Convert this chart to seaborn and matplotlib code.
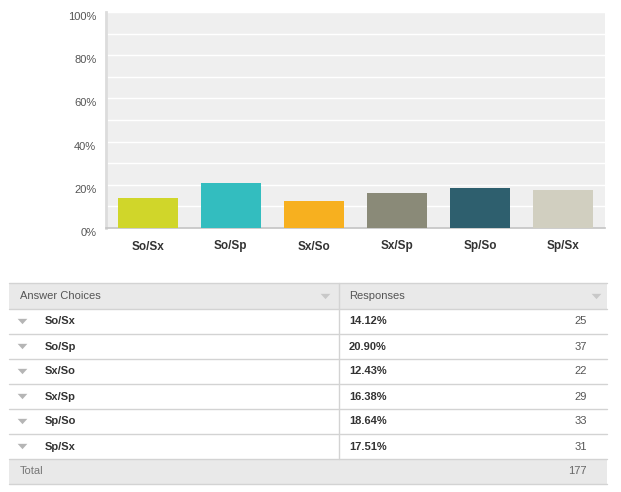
import matplotlib
matplotlib.use("Agg")
import matplotlib.pyplot as plt
import matplotlib.transforms as mtransforms
from matplotlib.patches import Rectangle
import seaborn as sns
import pandas as pd

categories = ["So/Sx", "So/Sp", "Sx/So", "Sx/Sp", "Sp/So", "Sp/Sx"]
percents = [14.12, 20.90, 12.43, 16.38, 18.64, 17.51]
counts = [25, 37, 22, 29, 33, 31]
total = 177
colors = ["#d0d62a", "#33bdbf", "#f7b01f", "#8a8a78", "#2e5f6e", "#d1cfc0"]
ytick_vals = [0, 20, 40, 60, 80, 100]
ytick_labels = ["0%", "20%", "40%", "60%", "80%", "100%"]

sns.set_theme(style="white")
plt.rcParams["font.family"] = ["Liberation Sans", "DejaVu Sans"]

W, H = 621, 492
fig = plt.figure(figsize=(W / 100, H / 100), dpi=100)

# chart axes
x0, x1, ytop, ybot = 106, 605, 12, 228
ax = fig.add_axes([x0 / W, 1 - ybot / H, (x1 - x0) / W, (ybot - ytop) / H])
df = pd.DataFrame({"cat": categories, "pct": percents})
sns.barplot(data=df, x="cat", y="pct", hue="cat", palette=colors, width=0.72,
            legend=False, ax=ax, saturation=1, zorder=3, linewidth=0, edgecolor="none")
ax.set_facecolor("#efefef")
ax.set_ylim(0, 100)
ax.set_xlim(-0.5, len(categories) - 0.5)
ax.set_yticks(ytick_vals)
ax.set_yticklabels(ytick_labels)
ax.set_yticks(list(range(10, 100, 20)), minor=True)
ax.grid(axis="y", which="both", color="white", linewidth=1.0, zorder=1)
ax.set_axisbelow(True)
ax.set_xlabel("")
ax.set_ylabel("")
for s in ["top", "right"]:
    ax.spines[s].set_visible(False)
ax.spines["left"].set_color("#dcdcdc")
ax.spines["left"].set_linewidth(2)
ax.spines["bottom"].set_color("#c4c4c4")
ax.spines["bottom"].set_linewidth(1.2)
ax.tick_params(axis="y", which="both", length=0, pad=7, labelsize=8, labelcolor="#555555")
ax.tick_params(axis="x", length=0, pad=9, labelsize=8.5, labelcolor="#333333")
for lab in ax.get_xticklabels():
    lab.set_fontweight("bold")
off = mtransforms.ScaledTranslation(0, -4 / 100, fig.dpi_scale_trans)
for lab in ax.get_yticklabels():
    lab.set_transform(lab.get_transform() + off)

# table axes (pixel coordinates)
tx = fig.add_axes([0, 0, 1, 1])
tx.set_xlim(0, W)
tx.set_ylim(H, 0)
tx.axis("off")

left, mid, right = 9, 339, 607
top = 283
hh = 26
rh = 25
line_c = "#d3d3d3"
tri = [(-1, 0.55), (1, 0.55), (0, -0.55)]  # marker path in display space: points down


def triangle(xp, yp, col):
    tx.plot([xp], [yp], marker=tri, markersize=7, color=col, linestyle="none",
            markeredgewidth=0)


tx.add_patch(Rectangle((left, top), right - left, hh, facecolor="#e9e9e9", edgecolor="none"))
tx.plot([left, right], [top, top], color=line_c, lw=1)
tx.text(20, top + hh / 2, "Answer Choices", fontsize=8, color="#555555", va="center", ha="left")
tx.text(349, top + hh / 2, "Responses", fontsize=8, color="#555555", va="center", ha="left")
triangle(325, top + hh / 2, "#c8c8c8")
triangle(596, top + hh / 2, "#c8c8c8")

y = top + hh
tx.plot([left, right], [y, y], color=line_c, lw=1)
for cat, p, c in zip(categories, percents, counts):
    cy = y + rh / 2
    triangle(22, cy - 0.5, "#b5b5b5")
    tx.text(45, cy, cat, fontsize=8, fontweight="bold", color="#333333", va="center", ha="left")
    tx.text(349, cy, f"{p:.2f}%", fontsize=8, fontweight="bold", color="#333333", va="center", ha="left")
    tx.text(587, cy, str(c), fontsize=8, color="#555555", va="center", ha="right")
    y += rh
    tx.plot([left, right], [y, y], color=line_c, lw=1)
tx.plot([mid, mid], [top, y], color=line_c, lw=1)

tx.add_patch(Rectangle((left, y), right - left, rh, facecolor="#e9e9e9", edgecolor="none"))
tx.text(20, y + rh / 2, "Total", fontsize=8, color="#777777", va="center", ha="left")
tx.text(587, y + rh / 2, str(total), fontsize=8, color="#666666", va="center", ha="right")
tx.plot([left, right], [y + rh, y + rh], color=line_c, lw=1)

fig.savefig("out.png", dpi=100, facecolor="white")
